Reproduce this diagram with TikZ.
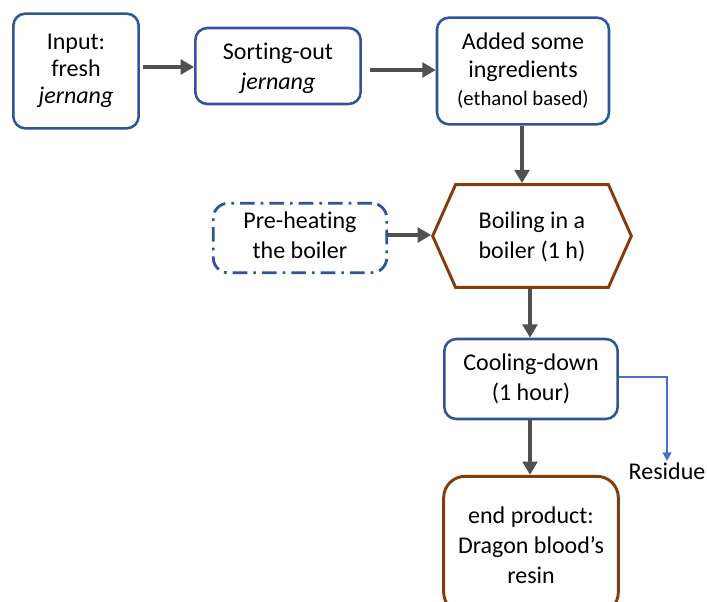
\documentclass[tikz,border=0pt]{standalone}
\usepackage{fontspec}
\setmainfont{Carlito}[Ligatures={NoCommon}]
\usetikzlibrary{arrows.meta, shapes.symbols}
\definecolor{boxblue}{HTML}{2F5597}
\definecolor{boxbrown}{HTML}{843C0C}
\definecolor{flowgrey}{HTML}{505050}
\definecolor{residblue}{HTML}{4472C4}

\begin{document}
\begin{tikzpicture}
    [x=0.75pt, y=-0.75pt,
     procbox/.style={draw=boxblue, line width=1.9pt, rounded corners=9pt, fill=white,
                     align=center, inner sep=0pt, font=\fontsize{18}{22.5}\selectfont},
     flow/.style={draw=flowgrey, line width=3pt, -{Triangle[length=10pt, width=11pt]}},
     resid/.style={draw=residblue, line width=1.6pt, -{Triangle[length=6.5pt, width=6.5pt]}}]
    \useasboundingbox (0,0) rectangle (707,602);
    \clip (0,0) rectangle (707,602);

    \node[procbox, minimum width=94pt, minimum height=86pt, font=\fontsize{18}{20.5}\selectfont]
        (input) at (76,71) {Input:\\fresh\\\textit{jernang}};
    \node[procbox, minimum width=124pt, minimum height=57pt, text depth=-1.5pt]
        (sorting) at (278,66) {Sorting-out\\\textit{jernang}};
    \node[procbox, minimum width=129pt, minimum height=80pt, font=\fontsize{18}{21}\selectfont]
        (added) at (523,71) {Added some\\ingredients\\{\fontsize{15.5}{21}\selectfont (ethanol based)}};
    \node[procbox, draw=boxbrown, line width=2.2pt, rounded corners=0pt, shape=signal,
          signal to=west and east, signal pointer angle=132, minimum width=149pt, minimum height=77pt,
          text depth=0.5pt]
        (boil) at (532,236) {Boiling in a\\boiler (1 h)};
    \node[procbox, minimum width=130pt, minimum height=52pt, line width=2.1pt, rounded corners=11pt,
          dash pattern=on 11pt off 4.5pt on 2pt off 4.5pt, text depth=4.6pt]
        (preheat) at (300,238) {Pre-heating\\the boiler};
    \node[procbox, minimum width=130pt, minimum height=60pt]
        (cool) at (531,379) {Cooling-down\\(1 hour)};
    \node[procbox, draw=boxbrown, line width=2.2pt, rounded corners=16pt,
          minimum width=131pt, minimum height=103pt, text depth=-4.5pt]
        (endprod) at (531,545) {end product:\\Dragon blood’s\\resin};
    \node[font=\fontsize{18}{20}\selectfont, inner sep=1pt, anchor=north]
        (residue) at (667,461) {Residue};

    \path[flow] ([xshift=2pt]input.east |- 0,67) -- (sorting.west |- 0,67);
    \path[flow] ([xshift=6pt]sorting.east |- 0,70) -- (added.west |- 0,70);
    \path[flow] (added.south -| 522,0) -- (boil.north -| 522,0);
    \path[flow] (preheat.east |- 0,235) -- (boil.west |- 0,235);
    \path[flow] (boil.south -| 530,0) -- (cool.north -| 530,0);
    \path[flow] (cool.south -| 530,0) -- (endprod.north -| 530,0);
    \path[resid] (cool.east |- 0,377) -| (residue.north);
\end{tikzpicture}
\end{document}
